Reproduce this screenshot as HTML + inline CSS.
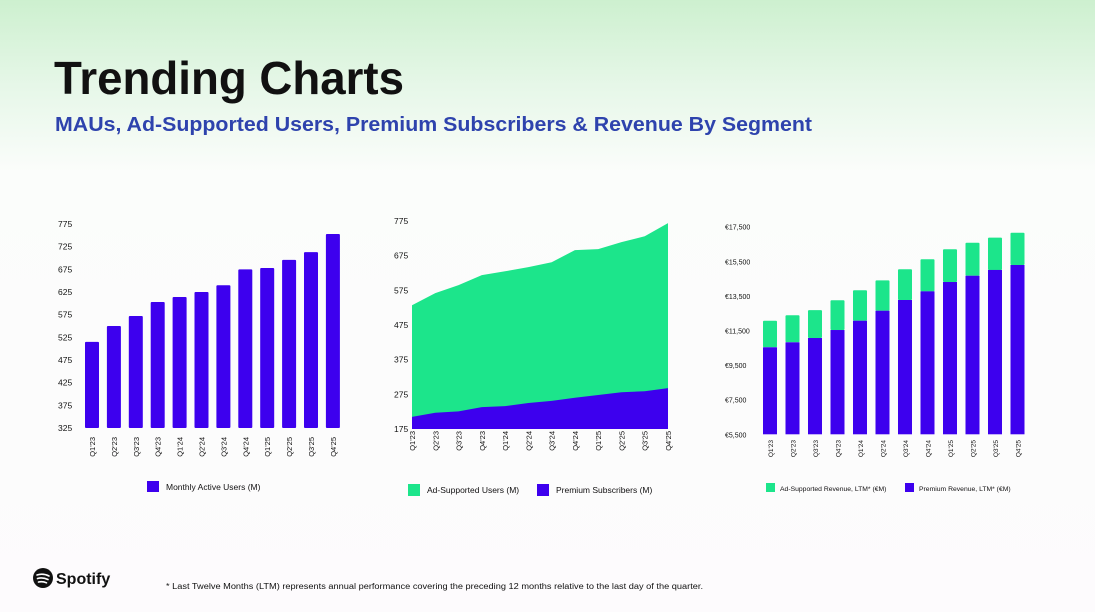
<!DOCTYPE html>
<html><head><meta charset="utf-8"><style>
body{margin:0;width:1095px;height:612px;overflow:hidden;font-family:"Liberation Sans",sans-serif;background:linear-gradient(180deg,#cdf0cf 0%,#e6f7e8 14%,#fbfdfb 28%,#fdfbfd 100%);}
svg{position:absolute;left:0;top:0}
</style></head><body>
<svg width="1095" height="612" id="svg">
<text x="54" y="94" font-size="46" font-weight="bold" fill="#111" textLength="350" lengthAdjust="spacingAndGlyphs">Trending Charts</text>
<text x="55" y="131" font-size="20.5" font-weight="bold" fill="#2e43ad" textLength="757" lengthAdjust="spacingAndGlyphs">MAUs, Ad-Supported Users, Premium Subscribers &amp; Revenue By Segment</text>
<g id="c1"></g>
<g id="c2"></g>
<g id="c3"></g>
<g>
<circle cx="43" cy="578" r="10" fill="#111"/>
<path d="M37 575 q6-2 12 1 M37.5 578.5 q5-1.5 10.5 1 M38.5 582 q4-1 8 .8" stroke="#fff" stroke-width="1.6" fill="none" stroke-linecap="round"/>
<text x="56" y="584" font-size="16" font-weight="bold" fill="#111">Spotify</text>
</g>
<text x="166" y="589" font-size="8" fill="#111" textLength="537" lengthAdjust="spacingAndGlyphs">* Last Twelve Months (LTM) represents annual performance covering the preceding 12 months relative to the last day of the quarter.</text>
</svg>
<script>
const cats=["Q1'23","Q2'23","Q3'23","Q4'23","Q1'24","Q2'24","Q3'24","Q4'24","Q1'25","Q2'25","Q3'25","Q4'25"];
const mau=[515,550,572,603,614,625,640,675,678,696,713,753];
const mauTicks=[325,375,425,475,525,575,625,675,725,775];
const adUsers=[322,345,364,381,389,392,400,426,421,433,447,476];
const premSubs=[210,222,226,238,241,250,256,265,273,281,284,293];
const userTicks=[175,275,375,475,575,675,775];
const premRev=[10530,10818,11066,11528,12066,12644,13263,13765,14303,14667,15000,15286];
const adRev=[1536,1562,1614,1717,1757,1756,1774,1850,1890,1908,1865,1864];
const revTicks=[5500,7500,9500,11500,13500,15500,17500];
const revLabels=["€5,500","€7,500","€9,500","€11,500","€13,500","€15,500","€17,500"];
const NS="http://www.w3.org/2000/svg";
const BLUE="#3d00ee",GREEN="#1ce58b";
function mk(p,t,a){const e=document.createElementNS(NS,t);for(const k in a)e.setAttribute(k,a[k]);p.appendChild(e);return e;}
function txt(p,x,y,s,size,anchor,rot){const e=mk(p,'text',{x:x,y:y,'font-size':size,fill:'#111','text-anchor':anchor||'start'});if(rot)e.setAttribute('transform','rotate(-90 '+x+' '+y+')');e.textContent=s;return e;}
// chart1
(function(){const g=document.getElementById('c1');const y0=428,y1=224,vmin=325,vmax=775;const y=v=>y0-(v-vmin)/(vmax-vmin)*(y0-y1);
const x=i=>85+i*21.9;
mauTicks.forEach(t=>{const e=txt(g,58,y(t)+3,t,8.5);});
mau.forEach((v,i)=>{const r=mk(g,'rect',{x:x(i),y:y(v),width:14,height:y0-y(v),fill:BLUE,rx:1});


const l=txt(g,x(i)+10,437,cats[i],7.5,'end',true);});
const lg=mk(g,'g',{});
mk(lg,'rect',{x:147,y:481,width:12,height:11,fill:BLUE});txt(lg,166,490,'Monthly Active Users (M)',8.5);})();
// chart2
(function(){const g=document.getElementById('c2');const y0=429,y1=221,vmin=175,vmax=775;const y=v=>y0-(v-vmin)/(vmax-vmin)*(y0-y1);
const x=i=>412+i*(256/11);
userTicks.forEach(t=>{const e=txt(g,394,y(t)+3,t,8.5);});
let top='M'+x(0)+' '+y0,prem='M'+x(0)+' '+y0;
cats.forEach((c,i)=>{top+=' L'+x(i)+' '+y(premSubs[i]+adUsers[i]);prem+=' L'+x(i)+' '+y(premSubs[i]);});
top+=' L'+x(11)+' '+y0+' Z';prem+=' L'+x(11)+' '+y0+' Z';
const a=mk(g,'path',{d:top,fill:GREEN});
const b=mk(g,'path',{d:prem,fill:BLUE});
cats.forEach((c,i)=>{const l=txt(g,x(i)+3,431,c,7.5,'end',true);});
const l1=mk(g,'g',{});
mk(l1,'rect',{x:408,y:484,width:12,height:12,fill:GREEN});txt(l1,427,493,'Ad-Supported Users (M)',8.5);
const l2=mk(g,'g',{});
mk(l2,'rect',{x:537,y:484,width:12,height:12,fill:BLUE});txt(l2,556,493,'Premium Subscribers (M)',8.5);})();
// chart3
(function(){const g=document.getElementById('c3');const y0=434.3,y1=226.7,vmin=5500,vmax=17500;const y=v=>y0-(v-vmin)/(vmax-vmin)*(y0-y1);
const x=i=>763+i*22.5;
revTicks.forEach((t,i)=>{const e=txt(g,725,y(t)+3,revLabels[i],7);});
cats.forEach((c,i)=>{const tot=premRev[i]+adRev[i];
const r2=mk(g,'rect',{x:x(i),y:y(tot),width:14,height:y(premRev[i])-y(tot),fill:GREEN,rx:1});


const r=mk(g,'rect',{x:x(i),y:y(premRev[i]),width:14,height:y0-y(premRev[i]),fill:BLUE});


const l=txt(g,x(i)+10,440,c,6.5,'end',true);});
const l1=mk(g,'g',{});
mk(l1,'rect',{x:766,y:483,width:9,height:9,fill:GREEN});txt(l1,780,491,'Ad-Supported Revenue, LTM* (€M)',6.8);
const l2=mk(g,'g',{});
mk(l2,'rect',{x:905,y:483,width:9,height:9,fill:BLUE});txt(l2,919,491,'Premium Revenue, LTM* (€M)',6.8);})();
</script>
</body></html>
